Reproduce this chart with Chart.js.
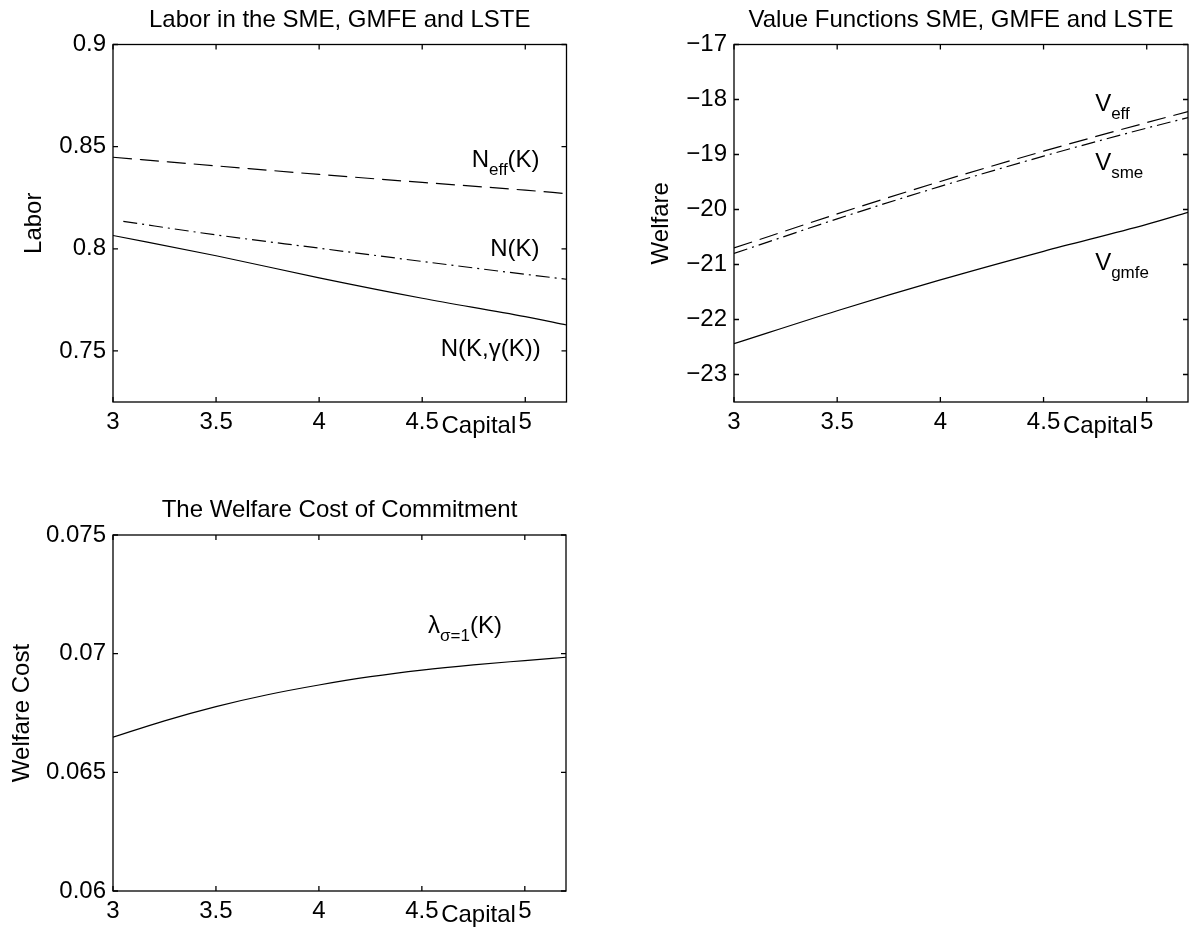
<!DOCTYPE html>
<html>
<head>
<meta charset="utf-8">
<title>Labor, Value Functions and Welfare Cost</title>
<script src="https://cdn.jsdelivr.net/npm/chart.js@4.4.1/dist/chart.umd.min.js"></script>
<style>
  html, body { margin: 0; padding: 0; background: #fff; }
  #wrap { position: relative; width: 1193px; height: 933px; }
  #wrap canvas { position: absolute; left: 0; top: 0; }
</style>
</head>
<body>
<div id="wrap">
  <canvas id="laborChart" width="1193" height="933"></canvas>
  <canvas id="valueChart" width="1193" height="933"></canvas>
  <canvas id="costChart" width="1193" height="933"></canvas>
</div>
<script>
// ============================
// Data
// ============================
const capitalTicks = [3, 3.5, 4, 4.5, 5];
const capitalTickLabels = ["3", "3.5", "4", "4.5", "5"];
const capitalGrid = [3, 3.5, 4, 4.5, 5, 5.2];

// Labor
const laborEff = [0.8448, 0.8406, 0.8364, 0.8325, 0.8287, 0.8270];
const laborSmeCapital = [3.05, 3.5, 4, 4.5, 5, 5.2];
const laborSme = [0.8134, 0.8068, 0.8003, 0.7938, 0.7875, 0.7851];
const laborGmfe = [0.8065, 0.7966, 0.7858, 0.7758, 0.7668, 0.7627];
const laborTicks = [0.75, 0.8, 0.85, 0.9];
const laborTickLabels = ["0.75", "0.8", "0.85", "0.9"];

// Value functions
const valueEff = [-20.70, -20.08, -19.49, -18.94, -18.42, -18.22];
const valueSme = [-20.80, -20.17, -19.58, -19.03, -18.52, -18.33];
const valueGmfe = [-22.44, -21.84, -21.28, -20.76, -20.27, -20.05];
const welfareTicks = [-23, -22, -21, -20, -19, -18, -17];
const welfareTickLabels = ["\u221223", "\u221222", "\u221221", "\u221220", "\u221219", "\u221218", "\u221217"];

// Welfare cost
const costGrid = [3, 3.25, 3.5, 3.75, 4, 4.25, 4.5, 4.75, 5, 5.2];
const costValues = [0.06648, 0.06717, 0.06777, 0.06827, 0.06868, 0.06903, 0.06931, 0.06953, 0.06971, 0.06985];
const costTicks = [0.06, 0.065, 0.07, 0.075];
const costTickLabels = ["0.06", "0.065", "0.07", "0.075"];

// ============================
// Shared helpers
// ============================
const FONT = "'Liberation Sans', Arial, Helvetica, sans-serif";
const FS = 24;
const PAGE_W = 1193, PAGE_H = 933;
const TICK = 5;
const DASHED = [19, 8];
const DASHDOT = [14, 5, 2, 5];

function toPoints(xs, ys) {
  return xs.map((x, i) => ({ x: x, y: ys[i] }));
}

function lineSet(xs, ys, dash) {
  return {
    data: toPoints(xs, ys),
    borderColor: "#000",
    borderWidth: 1.2,
    borderDash: dash,
    pointRadius: 0,
    fill: false,
    cubicInterpolationMode: "monotone"
  };
}

// text with subscripts, parts = [{t, sub}]
function drawRich(ctx, parts, x, y) {
  ctx.textAlign = "left";
  ctx.textBaseline = "alphabetic";
  let cx = x;
  parts.forEach(p => {
    ctx.font = (p.sub ? "17px " : FS + "px ") + FONT;
    ctx.fillText(p.t, cx, p.sub ? y + 8 : y);
    cx += ctx.measureText(p.t).width;
  });
}

function framePlugin(cfg) {
  return {
    id: "frame",
    afterDraw(chart) {
      const { ctx, chartArea: a, scales } = chart;
      ctx.save();
      ctx.strokeStyle = "#000";
      ctx.lineWidth = 1.3;
      ctx.strokeRect(a.left, a.top, a.right - a.left, a.bottom - a.top);
      // inward ticks on all four sides
      ctx.beginPath();
      scales.x.ticks.forEach(t => {
        const px = scales.x.getPixelForValue(t.value);
        ctx.moveTo(px, a.bottom); ctx.lineTo(px, a.bottom - TICK);
        ctx.moveTo(px, a.top); ctx.lineTo(px, a.top + TICK);
      });
      scales.y.ticks.forEach(t => {
        const py = scales.y.getPixelForValue(t.value);
        ctx.moveTo(a.left, py); ctx.lineTo(a.left + TICK, py);
        ctx.moveTo(a.right, py); ctx.lineTo(a.right - TICK, py);
      });
      ctx.stroke();

      ctx.fillStyle = "#000";
      ctx.font = FS + "px " + FONT;
      ctx.textAlign = "center";
      ctx.textBaseline = "alphabetic";
      ctx.fillText(cfg.title, (a.left + a.right) / 2, a.top - 18);
      ctx.fillText("Capital", scales.x.getPixelForValue(4.775), a.bottom + 31);

      cfg.notes.forEach(n => {
        drawRich(ctx, n.parts, scales.x.getPixelForValue(n.x), scales.y.getPixelForValue(n.y));
      });
      ctx.restore();
    }
  };
}

// ============================
// Chart builder
// ============================
function makeChart(id, cfg) {
  const area = cfg.area;
  return new Chart(document.getElementById(id), {
    type: "line",
    data: { datasets: cfg.datasets },
    options: {
      responsive: false,
      animation: false,
      events: [],
      layout: {
        padding: { left: area.left - cfg.yAxisWidth, top: area.top, right: PAGE_W - area.right, bottom: 0 }
      },
      scales: {
        x: {
          type: "linear",
          min: 3,
          max: 5.2,
          afterBuildTicks: s => { s.ticks = capitalTicks.map(v => ({ value: v })); },
          afterFit: s => { s.height = PAGE_H - area.bottom; },
          grid: { display: false, drawTicks: false },
          border: { display: false },
          ticks: {
            padding: 6,
            maxRotation: 0,
            autoSkip: false,
            color: "#000",
            font: { family: FONT, size: FS },
            callback: v => capitalTickLabels[capitalTicks.indexOf(v)]
          }
        },
        y: {
          type: "linear",
          min: cfg.yMin,
          max: cfg.yMax,
          afterBuildTicks: s => { s.ticks = cfg.yTicks.map(v => ({ value: v })); },
          afterFit: s => { s.width = cfg.yAxisWidth; },
          grid: { display: false, drawTicks: false },
          border: { display: false },
          ticks: {
            padding: 7,
            autoSkip: false,
            color: "#000",
            font: { family: FONT, size: FS },
            callback: v => cfg.yTickLabels[cfg.yTicks.indexOf(v)]
          },
          title: {
            display: true,
            text: cfg.yTitle,
            color: "#000",
            font: { family: FONT, size: FS },
            padding: { top: cfg.yTitlePad, bottom: 0 }
          }
        }
      },
      plugins: {
        legend: { display: false },
        tooltip: { enabled: false },
        title: { display: false }
      }
    },
    plugins: [framePlugin(cfg)]
  });
}

// ============================
// Labor in the SME, GMFE and LSTE
// ============================
makeChart("laborChart", {
  area: { left: 113, top: 44.5, right: 566.5, bottom: 402 },
  yAxisWidth: 113,
  yTitlePad: 20,
  yMin: 0.725,
  yMax: 0.9,
  yTicks: laborTicks,
  yTickLabels: laborTickLabels,
  yTitle: "Labor",
  title: "Labor in the SME, GMFE and LSTE",
  datasets: [
    lineSet(capitalGrid, laborEff, DASHED),
    lineSet(laborSmeCapital, laborSme, DASHDOT),
    lineSet(capitalGrid, laborGmfe, [])
  ],
  notes: [
    { x: 4.74, y: 0.840, parts: [{ t: "N" }, { t: "eff", sub: true }, { t: "(K)" }] },
    { x: 4.83, y: 0.7966, parts: [{ t: "N(K)" }] },
    { x: 4.59, y: 0.7475, parts: [{ t: "N(K,\u03b3(K))" }] }
  ]
});

// ============================
// Value Functions SME, GMFE and LSTE
// ============================
makeChart("valueChart", {
  area: { left: 734, top: 44.5, right: 1188, bottom: 402 },
  yAxisWidth: 100,
  yTitlePad: 13,
  yMin: -23.5,
  yMax: -17,
  yTicks: welfareTicks,
  yTickLabels: welfareTickLabels,
  yTitle: "Welfare",
  title: "Value Functions SME, GMFE and LSTE",
  datasets: [
    lineSet(capitalGrid, valueEff, DASHED),
    lineSet(capitalGrid, valueSme, DASHDOT),
    lineSet(capitalGrid, valueGmfe, [])
  ],
  notes: [
    { x: 4.75, y: -18.2, parts: [{ t: "V" }, { t: "eff", sub: true }] },
    { x: 4.75, y: -19.29, parts: [{ t: "V" }, { t: "sme", sub: true }] },
    { x: 4.75, y: -21.1, parts: [{ t: "V" }, { t: "gmfe", sub: true }] }
  ]
});

// ============================
// The Welfare Cost of Commitment
// ============================
makeChart("costChart", {
  area: { left: 113, top: 535, right: 566, bottom: 891 },
  yAxisWidth: 112,
  yTitlePad: 7,
  yMin: 0.06,
  yMax: 0.075,
  yTicks: costTicks,
  yTickLabels: costTickLabels,
  yTitle: "Welfare Cost",
  title: "The Welfare Cost of Commitment",
  datasets: [
    lineSet(costGrid, costValues, [])
  ],
  notes: [
    { x: 4.53, y: 0.07088, parts: [{ t: "\u03bb" }, { t: "\u03c3=1", sub: true }, { t: "(K)" }] }
  ]
});
</script>
</body>
</html>
